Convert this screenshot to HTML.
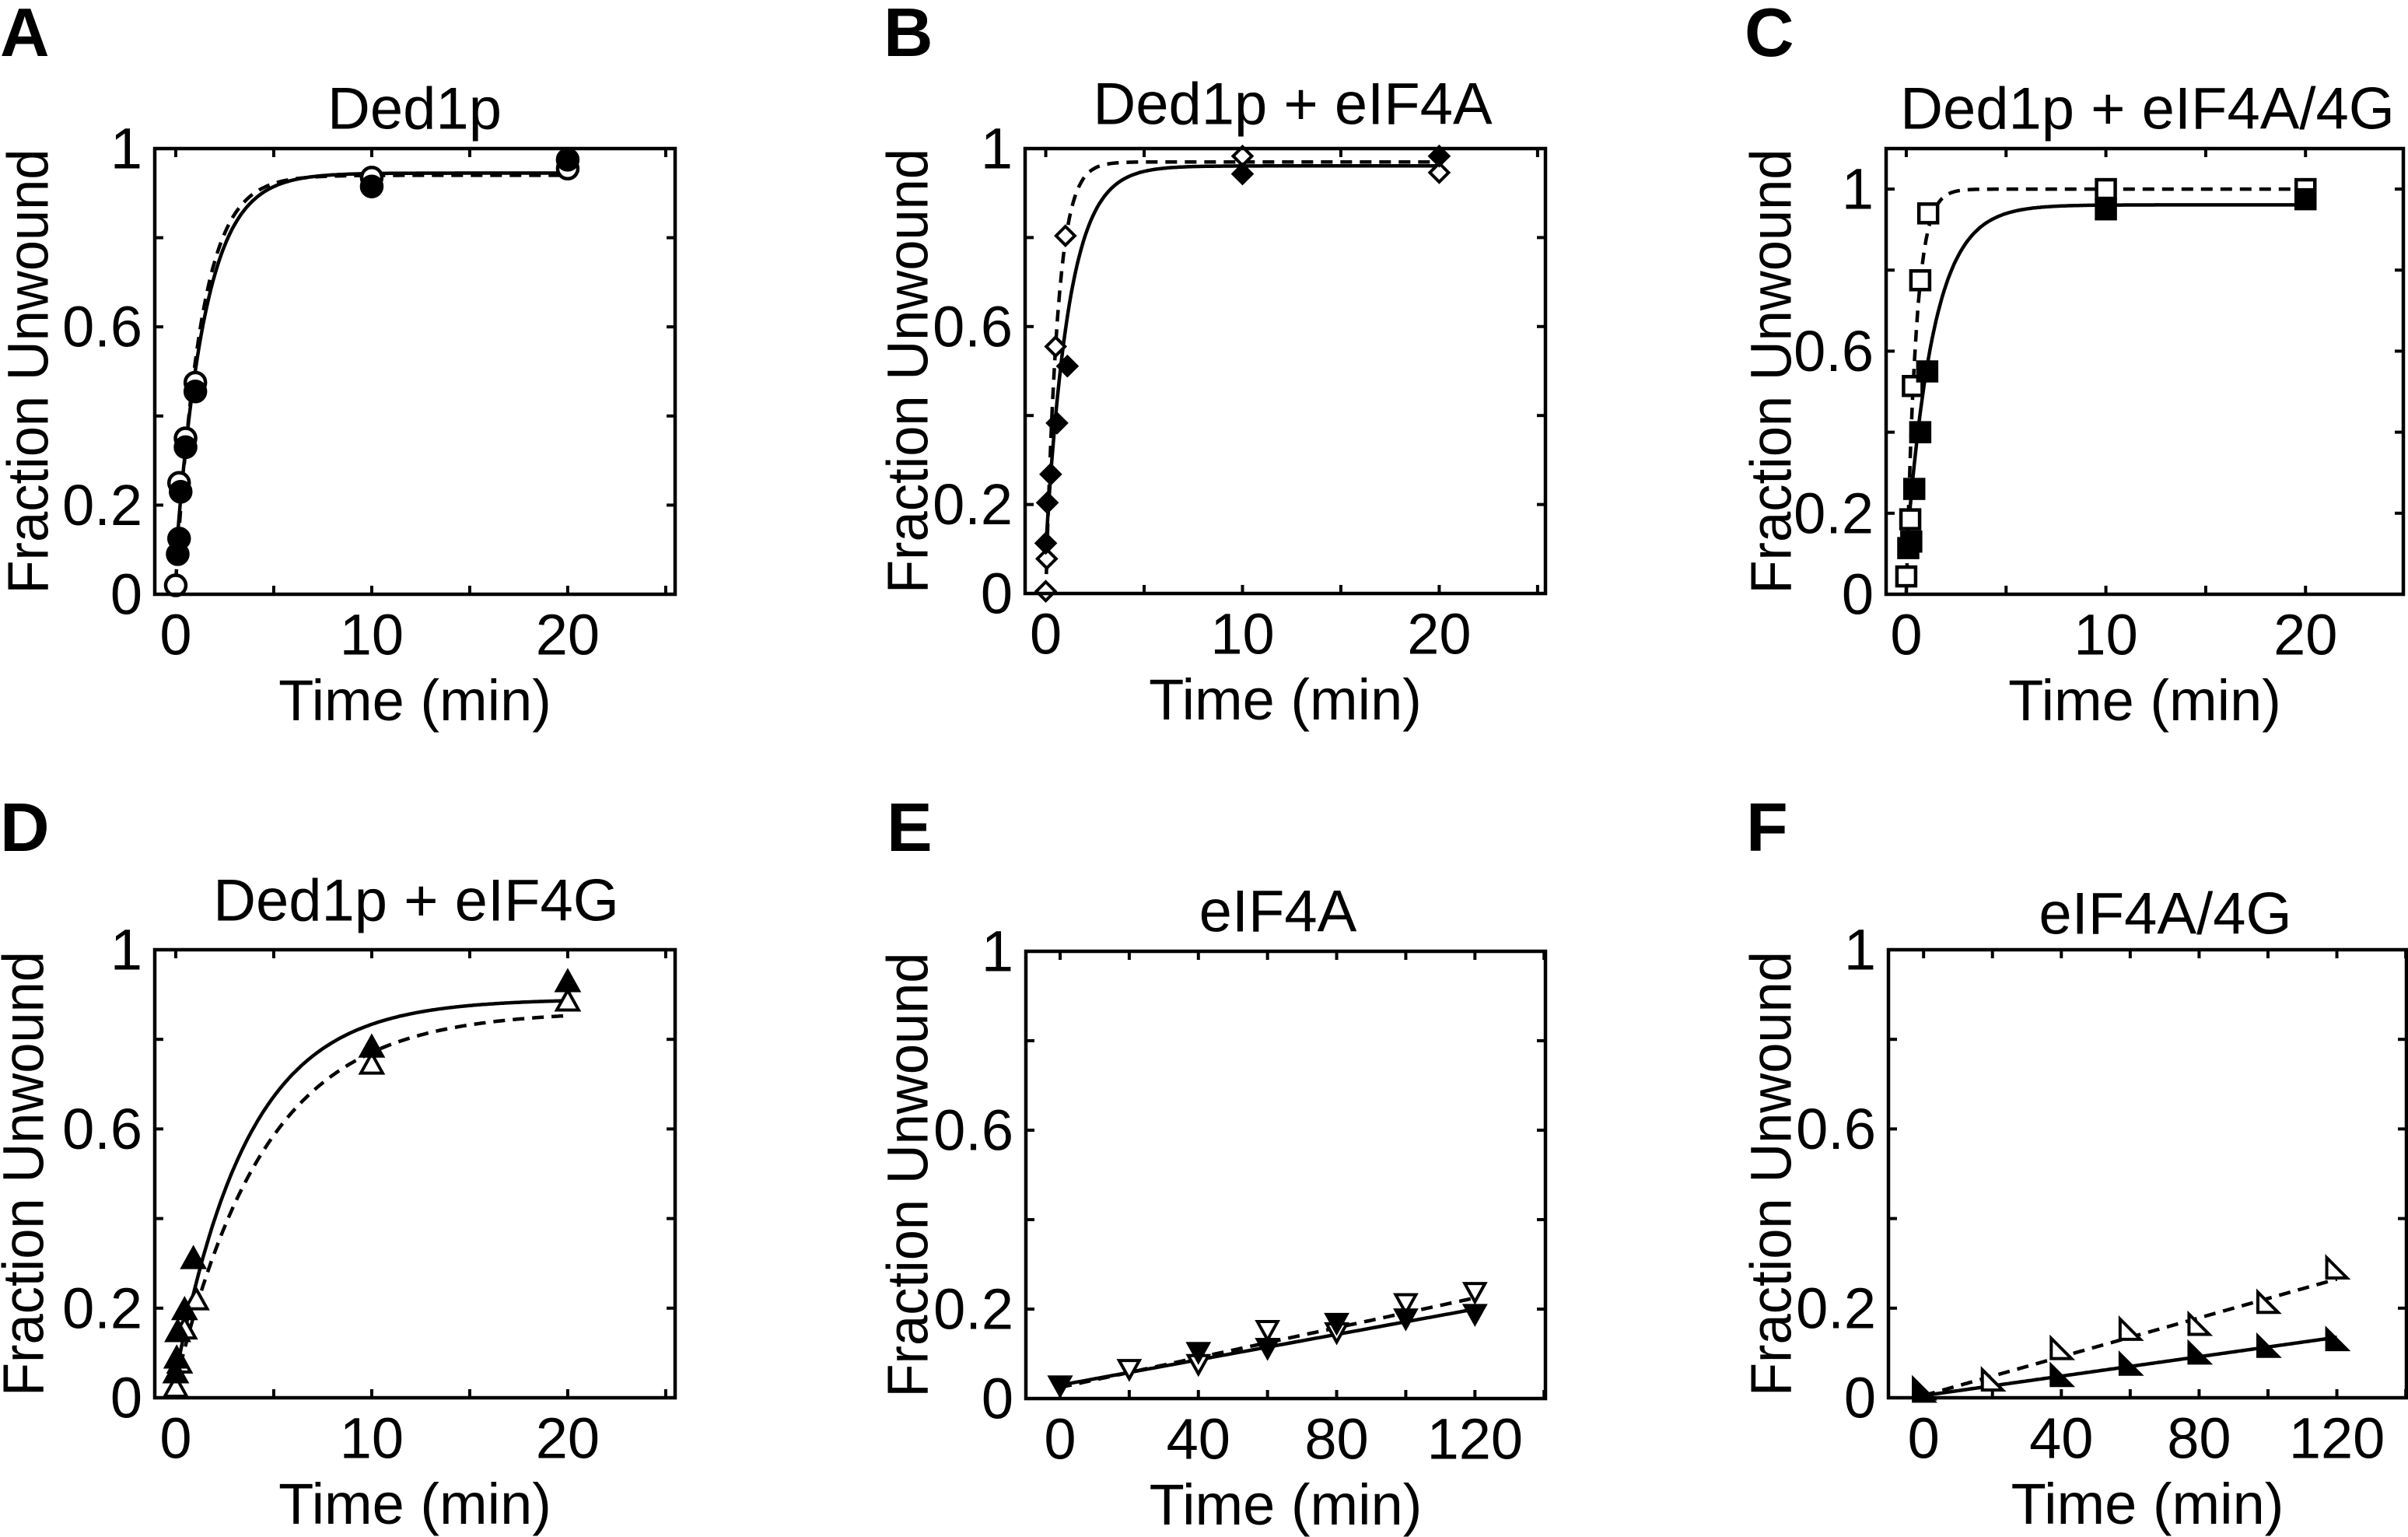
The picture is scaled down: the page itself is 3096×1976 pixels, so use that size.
<!DOCTYPE html>
<html><head><meta charset="utf-8"><title>Unwinding kinetics</title>
<style>
html,body{margin:0;padding:0;background:#fff;}
svg{display:block;}
text{font-family:"Liberation Sans",Arial,sans-serif;fill:#000;}
</style></head>
<body>
<svg id="fig" xmlns="http://www.w3.org/2000/svg" width="3096" height="1976" viewBox="0 0 3096 1976"></svg>
<script>
// ---- data ----
const tA_filled = [0.1, 0.17, 0.25, 0.5, 1, 10, 20];
const yA_filled = [0.09, 0.125, 0.23, 0.33, 0.455, 0.915, 0.975];
const tA_open = [0, 0.17, 0.5, 1, 10, 20];
const yA_open = [0.02, 0.25, 0.35, 0.475, 0.935, 0.955];
const fitA_solid = [0.08, 0.945, 0.67];   // [c, plateau, k]
const fitA_dashed = [0.03, 0.94, 0.78];

const tB_filled = [0, 0.08, 0.25, 0.57, 1.1, 10, 20];
const yB_filled = [0.113, 0.204, 0.268, 0.383, 0.511, 0.943, 0.983];
const tB_open = [0, 0.05, 0.5, 1, 10, 20];
const yB_open = [0.005, 0.078, 0.555, 0.804, 0.983, 0.946];
const fitB_solid = [0.1, 0.961, 0.85];
const fitB_dashed = [0.0, 0.97, 1.7];

const tC_filled = [0.1, 0.25, 0.4, 0.7, 1.05, 10, 20];
const yC_filled = [0.114, 0.13, 0.26, 0.40, 0.55, 0.95, 0.975];
const tC_open = [0, 0.2, 0.33, 0.7, 1.1, 10, 20];
const yC_open = [0.044, 0.185, 0.514, 0.775, 0.94, 1.0, 1.0];
const fitC_solid = [0.1, 0.961, 0.74];
const fitC_dashed = [0.0, 1.0, 2.1];

const tD_filled = [0, 0.05, 0.1, 0.45, 0.9, 10, 20];
const yD_filled = [0.055, 0.088, 0.147, 0.196, 0.31, 0.782, 0.928];
const tD_open = [0, 0.2, 0.45, 1.05, 10, 20];
const yD_open = [0.023, 0.077, 0.153, 0.218, 0.744, 0.885];
const fitD_solid = [0.05, 0.89, 0.27];
const fitD_dashed = [0.03, 0.863, 0.22];

const tE_filled = [0, 40, 60, 80, 100, 120];
const yE_filled = [0.03, 0.105, 0.114, 0.17, 0.18, 0.19];
const tE_open = [0, 20, 40, 60, 80, 100, 120];
const yE_open = [0.03, 0.067, 0.078, 0.154, 0.149, 0.214, 0.239];
const linE_solid = [0.03, 0.2];   // [value at 0, value at 120]
const linE_dashed = [0.025, 0.225];

const tF_filled = [0, 40, 60, 80, 100, 120];
const yF_filled = [0.015, 0.05, 0.075, 0.1, 0.115, 0.13];
const tF_open = [0, 20, 40, 60, 80, 100, 120];
const yF_open = [0.02, 0.04, 0.11, 0.153, 0.164, 0.213, 0.29];
const linF_solid = [0.005, 0.135];
const linF_dashed = [0.005, 0.265];

const xTickLabelsShort = [0, 10, 20];
const xTickLabelsLong = [0, 40, 80, 120];
const yTickLabels = [0, 0.2, 0.6, 1];

// ---- drawing ----
const NS = "http://www.w3.org/2000/svg";
const svg = document.getElementById("fig");
function mk(tag, attrs, parent) {
  const e = document.createElementNS(NS, tag);
  for (const k in attrs) e.setAttribute(k, attrs[k]);
  (parent || svg).appendChild(e);
  return e;
}
function txt(s, x, y, size, parent, extra) {
  const t = mk("text", Object.assign({x: x, y: y, "font-size": size}, extra || {}), parent);
  t.textContent = s;
  return t;
}

function marker(g, shape, filled, px, py) {
  const fill = filled ? "#000" : "#fff";
  let m;
  if (shape === "circle") {
    m = mk("circle", {cx: px, cy: py, r: 13, fill: fill, stroke: "#000", "stroke-width": 4.5}, g);
  } else if (shape === "diamond") {
    const s = 12;
    m = mk("polygon", {points: `${px},${py-s} ${px+s},${py} ${px},${py+s} ${px-s},${py}`, fill: fill, stroke: "#000", "stroke-width": 4}, g);
  } else if (shape === "square") {
    const s = 12;
    m = mk("rect", {x: px-s, y: py-s, width: 2*s, height: 2*s, fill: fill, stroke: "#000", "stroke-width": 4.5}, g);
  } else if (shape === "triUp") {
    const s = 14;
    m = mk("polygon", {points: `${px},${py-s} ${px+s},${py+s*0.8} ${px-s},${py+s*0.8}`, fill: fill, stroke: "#000", "stroke-width": 4}, g);
  } else if (shape === "triDown") {
    const s = 13;
    m = mk("polygon", {points: `${px-s},${py-s*0.8} ${px+s},${py-s*0.8} ${px},${py+s}`, fill: fill, stroke: "#000", "stroke-width": 4}, g);
  } else {
    const s = 13;
    m = mk("polygon", {points: `${px-s},${py-s} ${px-s},${py+s} ${px+s},${py+s}`, fill: fill, stroke: "#000", "stroke-width": 4}, g);
  }
  
  
}

function panel(cfg) {
  const g = mk("g", {});
  
  
  const {L, R, T, B, xmin, xmax, ymax} = cfg;
  const sx = v => L + (v - xmin) / (xmax - xmin) * (R - L);
  const sy = v => B - v / ymax * (B - T);

  const lt = txt(cfg.id, cfg.letterX, cfg.letterY, 88, g, {"font-weight": "bold"});
  
  
  const tt = txt(cfg.title, cfg.titleX, cfg.titleY, 76, g, {"text-anchor": "middle", "dominant-baseline": "central"});
  
  

  const tk = mk("g", {stroke: "#000", "stroke-width": 4}, g);
  
  
  for (let v = cfg.xTickStart; v <= xmax + 1e-9; v += cfg.xTickStep) {
    const x = sx(v);
    mk("line", {x1: x, x2: x, y1: B, y2: B - 11}, tk);
    mk("line", {x1: x, x2: x, y1: T, y2: T + 11}, tk);
  }
  for (let v = 0; v <= ymax + 1e-9; v += 0.2) {
    const y = sy(v);
    mk("line", {x1: L, x2: L + 11, y1: y, y2: y}, tk);
    mk("line", {x1: R, x2: R - 11, y1: y, y2: y}, tk);
  }
  cfg.xLabels.forEach(v => {
    const t = txt(String(v), sx(v), B + 52, 74, g, {"text-anchor": "middle", "dominant-baseline": "central"});
    
    
  });
  yTickLabels.forEach(v => {
    const t = txt(String(v), L - 16, sy(v), 74, g, {"text-anchor": "end", "dominant-baseline": "central"});
    
    
  });
  const xt = txt("Time (min)", (L + R) / 2, B + 162, 74, g, {"text-anchor": "middle"});
  
  
  const yc = (T + B) / 2;
  const yt = txt("Fraction Unwound", cfg.ylabX, yc, 74, g, {"text-anchor": "middle", "dominant-baseline": "central", transform: `rotate(-90 ${cfg.ylabX} ${yc})`, textLength: 572, lengthAdjust: "spacingAndGlyphs"});
  
  

  function curve(fn, t0, t1, dashed, name) {
    let d = "";
    const n = 200;
    for (let i = 0; i <= n; i++) {
      const t = t0 + (t1 - t0) * i / n;
      d += (i ? "L" : "M") + sx(t).toFixed(1) + "," + sy(fn(t)).toFixed(1);
    }
    const p = mk("path", {d: d, fill: "none", stroke: "#000", "stroke-width": 4.5, "stroke-dasharray": dashed ? "15 10" : "none"}, g);
    
    
  }
  if (cfg.kind === "exp") {
    const f = p => t => p[0] + (p[1] - p[0]) * (1 - Math.exp(-p[2] * t));
    curve(f(cfg.fitD), 0, 20, true, 'fit-dashed');
    curve(f(cfg.fitS), 0, 20, false, 'fit-solid');
  } else {
    const f = p => t => p[0] + (p[1] - p[0]) * t / 120;
    curve(f(cfg.fitD), 0, 120, true, 'fit-dashed');
    curve(f(cfg.fitS), 0, 120, false, 'fit-solid');
  }
  cfg.tO.forEach((t, i) => marker(g, cfg.shape, false, sx(t), sy(cfg.yO[i])));
  cfg.tF.forEach((t, i) => marker(g, cfg.shape, true, sx(t), sy(cfg.yF[i])));

  const box = mk("rect", {x: L, y: T, width: R - L, height: B - T, fill: "none", stroke: "#000", "stroke-width": 4.5}, g);
  
  
}

panel({id: "A", title: "Ded1p", titleX: 533, titleY: 140, letterX: 0, letterY: 72, ylabX: 36,
  L: 199, R: 868, T: 191, B: 764, xmin: -1.07, xmax: 25.48, ymax: 1, xTickStart: 0, xTickStep: 5,
  xLabels: xTickLabelsShort, kind: "exp", shape: "circle",
  tF: tA_filled, yF: yA_filled, tO: tA_open, yO: yA_open, fitS: fitA_solid, fitD: fitA_dashed});
panel({id: "B", title: "Ded1p + eIF4A", titleX: 1662, titleY: 134, letterX: 1136, letterY: 72, ylabX: 1167,
  L: 1318, R: 1987, T: 191, B: 763, xmin: -1.05, xmax: 25.4, ymax: 1, xTickStart: 0, xTickStep: 5,
  xLabels: xTickLabelsShort, kind: "exp", shape: "diamond",
  tF: tB_filled, yF: yB_filled, tO: tB_open, yO: yB_open, fitS: fitB_solid, fitD: fitB_dashed});
panel({id: "C", title: "Ded1p + eIF4A/4G", titleX: 2761, titleY: 140, letterX: 2243, letterY: 72, ylabX: 2277,
  L: 2425, R: 3090, T: 191, B: 764, xmin: -1.01, xmax: 24.9, ymax: 1.1, xTickStart: 0, xTickStep: 5,
  xLabels: xTickLabelsShort, kind: "exp", shape: "square",
  tF: tC_filled, yF: yC_filled, tO: tC_open, yO: yC_open, fitS: fitC_solid, fitD: fitC_dashed});
panel({id: "D", title: "Ded1p + eIF4G", titleX: 535, titleY: 1158, letterX: 0, letterY: 1094, ylabX: 30,
  L: 199, R: 868, T: 1221, B: 1797, xmin: -1.07, xmax: 25.48, ymax: 1, xTickStart: 0, xTickStep: 5,
  xLabels: xTickLabelsShort, kind: "exp", shape: "triUp",
  tF: tD_filled, yF: yD_filled, tO: tD_open, yO: yD_open, fitS: fitD_solid, fitD: fitD_dashed});
panel({id: "E", title: "eIF4A", titleX: 1643, titleY: 1172, letterX: 1140, letterY: 1094, ylabX: 1167,
  L: 1319, R: 1987, T: 1223, B: 1798, xmin: -9.9, xmax: 140.4, ymax: 1, xTickStart: 0, xTickStep: 20,
  xLabels: xTickLabelsLong, kind: "lin", shape: "triDown",
  tF: tE_filled, yF: yE_filled, tO: tE_open, yO: yE_open, fitS: linE_solid, fitD: linE_dashed});
panel({id: "F", title: "eIF4A/4G", titleX: 2784, titleY: 1175, letterX: 2245, letterY: 1094, ylabX: 2277,
  L: 2428, R: 3094, T: 1221, B: 1797, xmin: -10.2, xmax: 140.2, ymax: 1, xTickStart: 0, xTickStep: 20,
  xLabels: xTickLabelsLong, kind: "lin", shape: "triRight",
  tF: tF_filled, yF: yF_filled, tO: tF_open, yO: yF_open, fitS: linF_solid, fitD: linF_dashed});
</script>
</body></html>
